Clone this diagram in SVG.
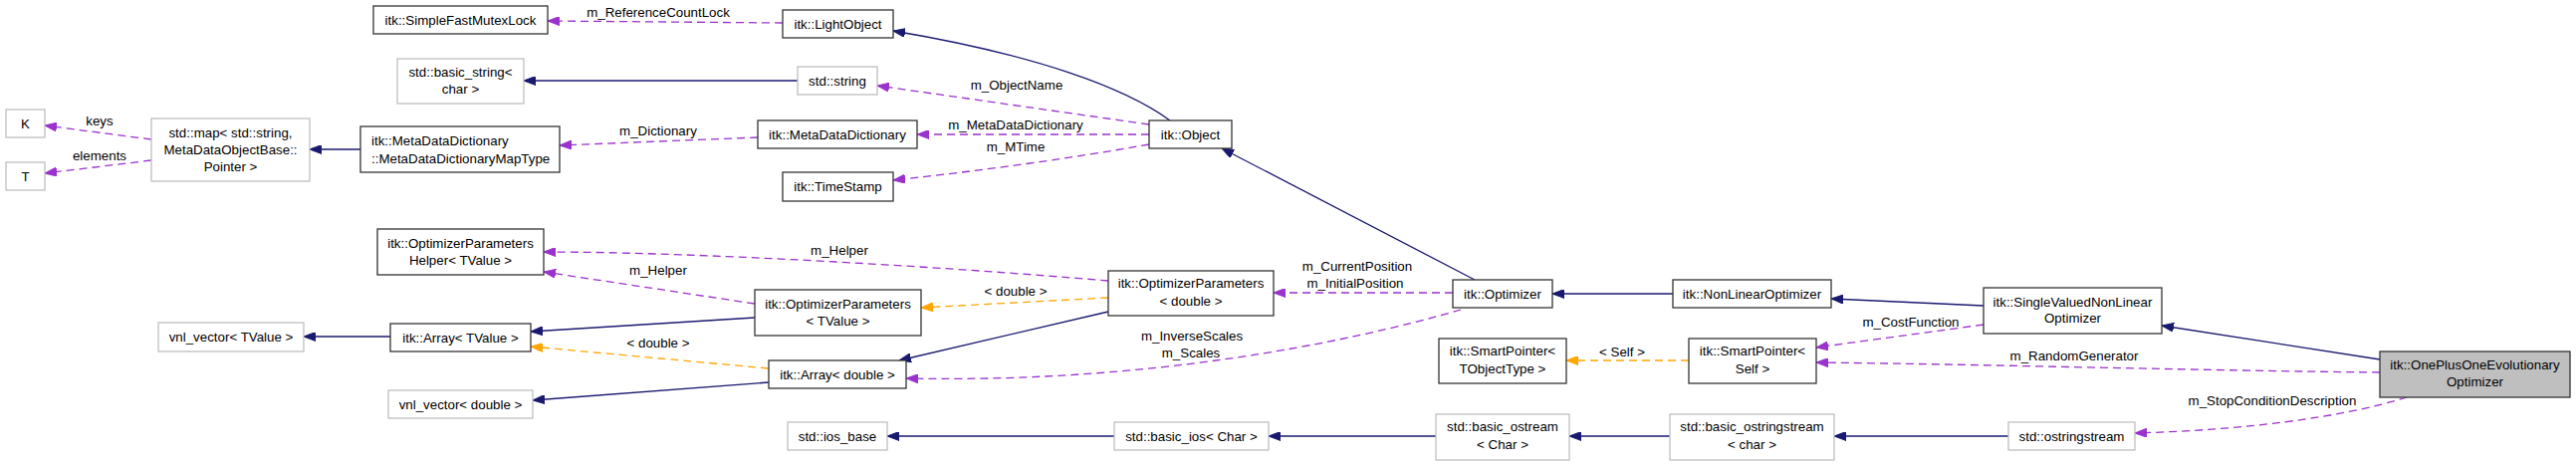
<svg xmlns="http://www.w3.org/2000/svg" width="2587" height="467" viewBox="0 0 2587 467">
<style>
text{font-family:"Liberation Sans",Arial,sans-serif;font-size:13.33px;fill:#000;text-anchor:middle}
.lt{text-anchor:start}
.n rect{fill:#fff;stroke:#333;stroke-width:1.3}
.g rect{fill:#fff;stroke:#bfbfbf;stroke-width:1.3}
.cur rect{fill:#bfbfbf;stroke:#333;stroke-width:1.3}
.inh{fill:none;stroke:#191970;stroke-width:1.3;marker-end:url(#aN)}
.use{fill:none;stroke:#9a32cd;stroke-width:1.3;stroke-dasharray:8,5;marker-end:url(#aP)}
.tpl{fill:none;stroke:#ffa500;stroke-width:1.3;stroke-dasharray:8,5;marker-end:url(#aO)}
</style>
<defs>
<marker id="aN" markerUnits="userSpaceOnUse" markerWidth="12" markerHeight="9" refX="12" refY="4.5" orient="auto"><path d="M0,0 L12,4.5 L0,9 z" fill="#191970" stroke="#191970"/></marker>
<marker id="aP" markerUnits="userSpaceOnUse" markerWidth="12" markerHeight="9" refX="12" refY="4.5" orient="auto"><path d="M0,0 L12,4.5 L0,9 z" fill="#9a32cd" stroke="#9a32cd"/></marker>
<marker id="aO" markerUnits="userSpaceOnUse" markerWidth="12" markerHeight="9" refX="12" refY="4.5" orient="auto"><path d="M0,0 L12,4.5 L0,9 z" fill="#ffa500" stroke="#ffa500"/></marker>
</defs>
<rect width="2587" height="467" fill="#fff"/>

<g id="connectors">
<!-- inheritance -->
<path class="inh" d="M1175,121 C1130,88 1040,55 897,31"/>
<path class="inh" d="M1481,281 L1227,149"/>
<path class="inh" d="M1680,295 L1559,295"/>
<path class="inh" d="M1992,307 L1839,300"/>
<path class="inh" d="M2390,361 L2171,327"/>
<path class="inh" d="M1113,313 L903,362"/>
<path class="inh" d="M758,319 L533,333"/>
<path class="inh" d="M392,338 L305,338"/>
<path class="inh" d="M772,384 L535,402"/>
<path class="inh" d="M801,81 L526,81"/>
<path class="inh" d="M362,150 L311,150"/>
<path class="inh" d="M2017,438 L1842,438"/>
<path class="inh" d="M1677,438 L1576,438"/>
<path class="inh" d="M1442,438 L1274,438"/>
<path class="inh" d="M1119,438 L891,438"/>
<!-- usage -->
<path class="use" d="M786,23 L550,21"/>
<path class="use" d="M1154,125 L881,86"/>
<path class="use" d="M1154,135 L921,135"/>
<path class="use" d="M1154,145 C1070,160 980,172 897,181"/>
<path class="use" d="M761,138 L562,146"/>
<path class="use" d="M152,140 L45,126"/>
<path class="use" d="M152,161 L45,174"/>
<path class="use" d="M1113,282 C950,268 700,253 546,253"/>
<path class="use" d="M758,305 L546,273"/>
<path class="use" d="M1459,294 L1279,294"/>
<path class="use" d="M1467,311 C1350,345 1150,385 910,380"/>
<path class="use" d="M1992,326 L1824,349"/>
<path class="use" d="M2390,374 C2200,372 2000,366 1824,364"/>
<path class="use" d="M2417,399 C2350,420 2250,432 2144,435"/>
<!-- template -->
<path class="tpl" d="M1113,299 L925,309"/>
<path class="tpl" d="M772,370 L533,348"/>
<path class="tpl" d="M1696,362 L1573,362"/>
<!-- labels -->
<text x="661" y="16.5">m_ReferenceCountLock</text>
<text x="1021" y="89.5">m_ObjectName</text>
<text x="1020" y="129.5">m_MetaDataDictionary</text>
<text x="1020" y="151.5">m_MTime</text>
<text x="661" y="135.5">m_Dictionary</text>
<text x="100" y="125.5">keys</text>
<text x="100" y="160.5">elements</text>
<text x="843" y="255.5">m_Helper</text>
<text x="661" y="275.5">m_Helper</text>
<text x="1020" y="296.5">&lt; double &gt;</text>
<text x="661" y="348.5">&lt; double &gt;</text>
<text x="1363" y="271.5">m_CurrentPosition</text>
<text x="1361" y="288.5">m_InitialPosition</text>
<text x="1197" y="341.5">m_InverseScales</text>
<text x="1196" y="358.5">m_Scales</text>
<text x="1629" y="357.5">&lt; Self &gt;</text>
<text x="1919" y="327.5">m_CostFunction</text>
<text x="2083" y="361.5">m_RandomGenerator</text>
<text x="2282" y="406.5">m_StopConditionDescription</text>
</g>

<g id="SimpleFastMutexLock" class="n"><rect x="375" y="6" width="175" height="28"/><text x="462.5" y="24.5">itk::SimpleFastMutexLock</text></g>
<g id="LightObject" class="n"><rect x="786" y="10" width="111" height="28"/><text x="841.5" y="28.5">itk::LightObject</text></g>
<g id="basic_string" class="g"><rect x="399" y="59" width="127" height="45"/><text x="462.5" y="76.5">std::basic_string&lt;</text><text x="462.5" y="93.5">char &gt;</text></g>
<g id="string" class="g"><rect x="801" y="67" width="80" height="28"/><text x="841" y="85.5">std::string</text></g>
<g id="K" class="g"><rect x="6" y="110" width="39" height="28"/><text x="25.5" y="128.5">K</text></g>
<g id="T" class="g"><rect x="6" y="163" width="39" height="28"/><text x="25.5" y="181.5">T</text></g>
<g id="map" class="g"><rect x="152" y="119" width="159" height="63"/><text x="231.5" y="137.5">std::map&lt; std::string,</text><text x="231.5" y="154.5">MetaDataObjectBase::</text><text x="231.5" y="171.5">Pointer &gt;</text></g>
<g id="MapType" class="n"><rect x="362" y="127" width="200" height="46"/><text class="lt" x="373" y="145.5">itk::MetaDataDictionary</text><text class="lt" x="373" y="163.5">::MetaDataDictionaryMapType</text></g>
<g id="MetaDataDictionary" class="n"><rect x="761" y="121" width="160" height="28"/><text x="841" y="139.5">itk::MetaDataDictionary</text></g>
<g id="TimeStamp" class="n"><rect x="786" y="173" width="111" height="29"/><text x="841.5" y="192">itk::TimeStamp</text></g>
<g id="Object" class="n"><rect x="1154" y="121" width="83" height="28"/><text x="1195.5" y="139.5">itk::Object</text></g>
<g id="Helper" class="n"><rect x="379" y="230" width="167" height="46"/><text x="462.5" y="248.5">itk::OptimizerParameters</text><text x="462.5" y="265.5">Helper&lt; TValue &gt;</text></g>
<g id="vnl_vector_TValue" class="g"><rect x="159" y="324" width="146" height="29"/><text x="232" y="343">vnl_vector&lt; TValue &gt;</text></g>
<g id="Array_TValue" class="n"><rect x="392" y="325" width="141" height="28"/><text x="462.5" y="343.5">itk::Array&lt; TValue &gt;</text></g>
<g id="vnl_vector_double" class="g"><rect x="390" y="392" width="145" height="28"/><text x="462.5" y="410.5">vnl_vector&lt; double &gt;</text></g>
<g id="OptParams_TValue" class="n"><rect x="758" y="291" width="167" height="46"/><text x="841.5" y="310">itk::OptimizerParameters</text><text x="841.5" y="327">&lt; TValue &gt;</text></g>
<g id="Array_double" class="n"><rect x="772" y="362" width="138" height="28"/><text x="841" y="380.5">itk::Array&lt; double &gt;</text></g>
<g id="OptParams_double" class="n"><rect x="1113" y="272" width="166" height="45"/><text x="1196" y="289">itk::OptimizerParameters</text><text x="1196" y="307">&lt; double &gt;</text></g>
<g id="ios_base" class="g"><rect x="791" y="424" width="100" height="28"/><text x="841" y="442.5">std::ios_base</text></g>
<g id="basic_ios" class="g"><rect x="1119" y="424" width="155" height="28"/><text x="1196.5" y="442.5">std::basic_ios&lt; Char &gt;</text></g>
<g id="Optimizer" class="n"><rect x="1459" y="281" width="100" height="28"/><text x="1509" y="299.5">itk::Optimizer</text></g>
<g id="NonLinearOptimizer" class="n"><rect x="1680" y="281" width="159" height="28"/><text x="1759.5" y="299.5">itk::NonLinearOptimizer</text></g>
<g id="SmartPointer_TObjectType" class="n"><rect x="1445" y="340" width="128" height="45"/><text x="1509" y="357">itk::SmartPointer&lt;</text><text x="1509" y="375">TObjectType &gt;</text></g>
<g id="SmartPointer_Self" class="n"><rect x="1696" y="340" width="128" height="45"/><text x="1760" y="357">itk::SmartPointer&lt;</text><text x="1760" y="375">Self &gt;</text></g>
<g id="basic_ostream" class="g"><rect x="1442" y="416" width="134" height="46"/><text x="1509" y="433">std::basic_ostream</text><text x="1509" y="451">&lt; Char &gt;</text></g>
<g id="basic_ostringstream" class="g"><rect x="1677" y="416" width="165" height="46"/><text x="1759.5" y="433">std::basic_ostringstream</text><text x="1759.5" y="451">&lt; char &gt;</text></g>
<g id="ostringstream" class="g"><rect x="2017" y="424" width="127" height="28"/><text x="2080.5" y="442.5">std::ostringstream</text></g>
<g id="SingleValuedNonLinearOptimizer" class="n"><rect x="1992" y="289" width="179" height="46"/><text x="2081.5" y="307.5">itk::SingleValuedNonLinear</text><text x="2081.5" y="324">Optimizer</text></g>
<g id="OnePlusOneEvolutionaryOptimizer" class="cur"><rect x="2390" y="353" width="191" height="46"/><text x="2485.5" y="371">itk::OnePlusOneEvolutionary</text><text x="2485.5" y="388">Optimizer</text></g>
</svg>
